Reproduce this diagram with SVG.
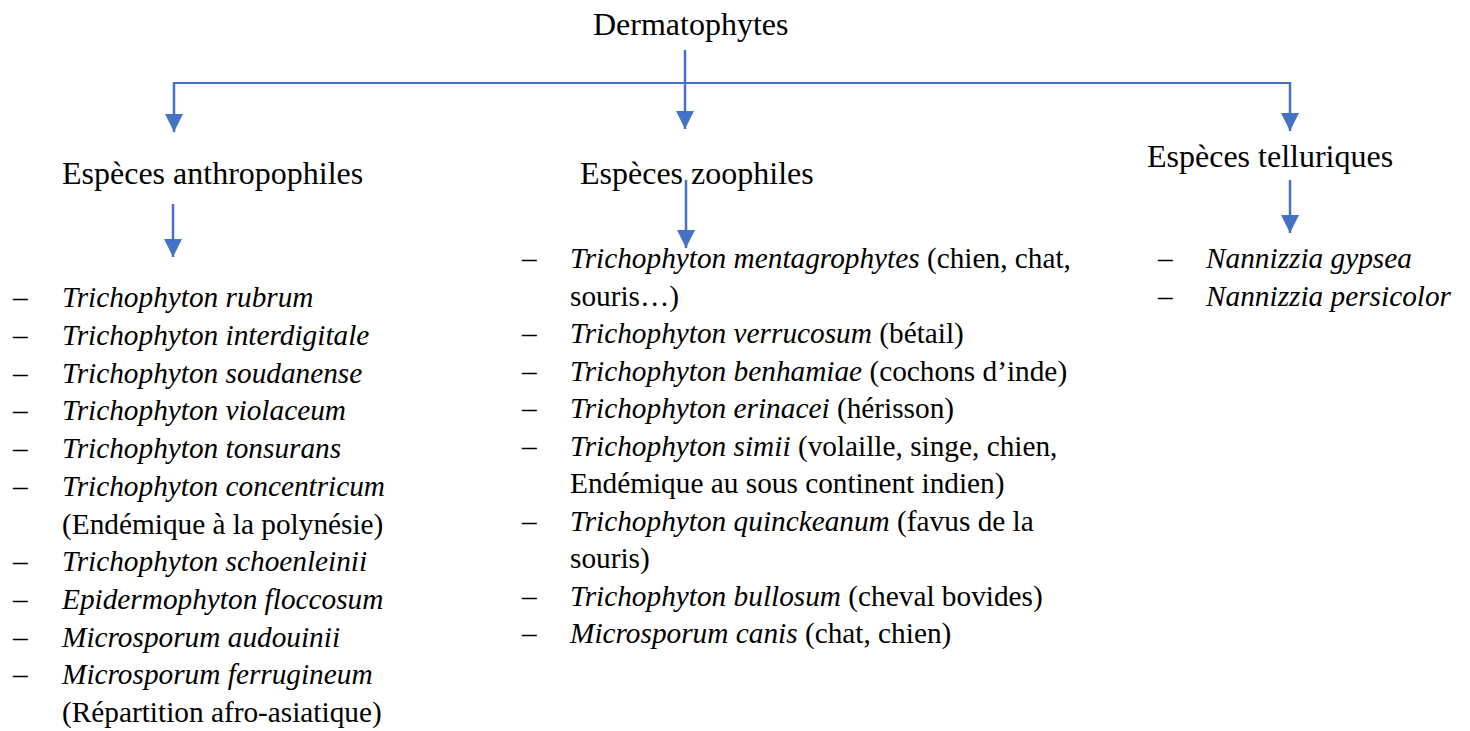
<svg xmlns="http://www.w3.org/2000/svg" width="1470" height="731" viewBox="0 0 1470 731">
<style>
text{font-family:"Liberation Serif","Times New Roman",serif;fill:#000}
.h{font-size:32px}
.t{font-size:29.3px}
.i{font-style:italic}
.c{fill:none;stroke:#4472C4;stroke-width:2.5}
.hl{fill:none;stroke:#4472C4;stroke-width:2}
</style>
<defs>
<marker id="ah" markerUnits="userSpaceOnUse" markerWidth="18" markerHeight="18" viewBox="0 0 16 16" refX="16" refY="8" orient="auto">
<path d="M0,0 L16,8 L0,16 Z" fill="#4472C4"/>
</marker>
</defs>
<rect width="1470" height="731" fill="#fff"/>
<g id="connectors">
<line class="hl" x1="174" y1="83" x2="1290" y2="83"/>
<line class="c" x1="685" y1="50" x2="685" y2="129" marker-end="url(#ah)"/>
<line class="c" x1="174" y1="82" x2="174" y2="132" marker-end="url(#ah)"/>
<line class="c" x1="1290" y1="82" x2="1290" y2="131" marker-end="url(#ah)"/>
<line class="c" x1="173" y1="204" x2="173" y2="257" marker-end="url(#ah)"/>
<line class="c" x1="686" y1="180" x2="686" y2="248" marker-end="url(#ah)"/>
<line class="c" x1="1290" y1="180" x2="1290" y2="233" marker-end="url(#ah)"/>
</g>
<g id="root"><text class="h" x="593" y="35">Dermatophytes</text></g>
<g id="anthropophiles"><text class="h" x="62" y="184">Espèces anthropophiles</text></g>
<g id="zoophiles"><text class="h" x="580" y="184">Espèces zoophiles</text></g>
<g id="telluriques"><text class="h" x="1147" y="167">Espèces telluriques</text></g>
<g id="list-anthropophiles" class="t">
<text x="13" y="307">–</text><text x="62" y="307" class="i">Trichophyton rubrum</text>
<text x="13" y="345">–</text><text x="62" y="345" class="i">Trichophyton interdigitale</text>
<text x="13" y="382.5">–</text><text x="62" y="382.5" class="i">Trichophyton soudanense</text>
<text x="13" y="420">–</text><text x="62" y="420" class="i">Trichophyton violaceum</text>
<text x="13" y="458">–</text><text x="62" y="458" class="i">Trichophyton tonsurans</text>
<text x="13" y="496">–</text><text x="62" y="496" class="i">Trichophyton concentricum</text>
<text x="62" y="533.5">(Endémique à la polynésie)</text>
<text x="13" y="571">–</text><text x="62" y="571" class="i">Trichophyton schoenleinii</text>
<text x="13" y="609">–</text><text x="62" y="609" class="i">Epidermophyton floccosum</text>
<text x="13" y="646.5">–</text><text x="62" y="646.5" class="i">Microsporum audouinii</text>
<text x="13" y="684">–</text><text x="62" y="684" class="i">Microsporum ferrugineum</text>
<text x="62" y="722">(Répartition afro-asiatique)</text>
</g>
<g id="list-zoophiles" class="t">
<text x="522" y="268">–</text><text x="570" y="268"><tspan class="i">Trichophyton mentagrophytes</tspan> (chien, chat,</text>
<text x="570" y="305.5">souris…)</text>
<text x="522" y="343">–</text><text x="570" y="343"><tspan class="i">Trichophyton verrucosum</tspan> (bétail)</text>
<text x="522" y="380.5">–</text><text x="570" y="380.5"><tspan class="i">Trichophyton benhamiae</tspan> (cochons d’inde)</text>
<text x="522" y="418">–</text><text x="570" y="418"><tspan class="i">Trichophyton erinacei</tspan> (hérisson)</text>
<text x="522" y="455.5">–</text><text x="570" y="455.5"><tspan class="i">Trichophyton simii</tspan> (volaille, singe, chien,</text>
<text x="570" y="493">Endémique au sous continent indien)</text>
<text x="522" y="530.5">–</text><text x="570" y="530.5"><tspan class="i">Trichophyton quinckeanum</tspan> (favus de la</text>
<text x="570" y="568">souris)</text>
<text x="522" y="605.5">–</text><text x="570" y="605.5"><tspan class="i">Trichophyton bullosum</tspan> (cheval bovides)</text>
<text x="522" y="643">–</text><text x="570" y="643"><tspan class="i">Microsporum canis</tspan> (chat, chien)</text>
</g>
<g id="list-telluriques" class="t">
<text x="1158" y="268">–</text><text x="1206" y="268" class="i">Nannizzia gypsea</text>
<text x="1158" y="306">–</text><text x="1206" y="306" class="i">Nannizzia persicolor</text>
</g>
</svg>
